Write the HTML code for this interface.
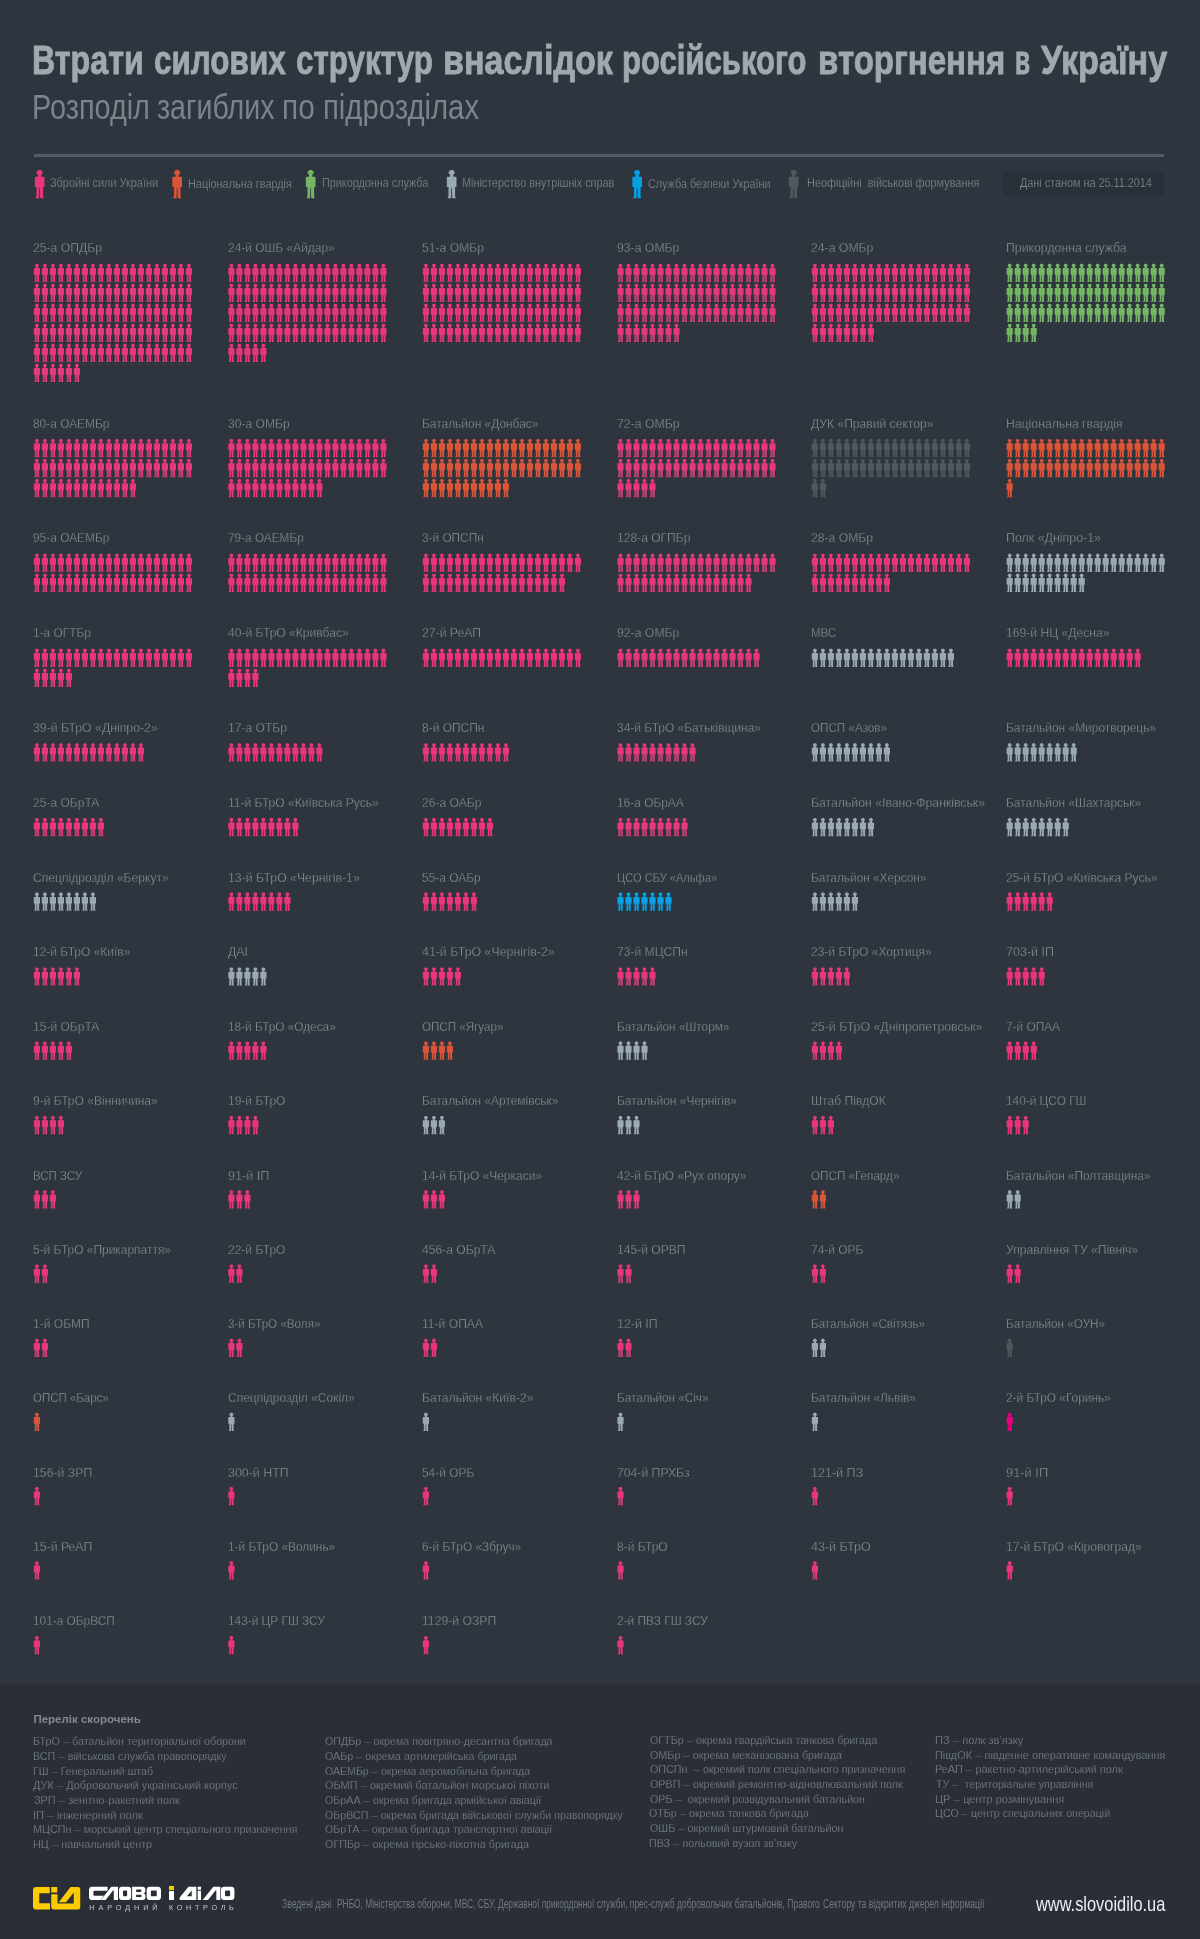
<!DOCTYPE html>
<html lang="uk"><head><meta charset="utf-8"><title>Втрати силових структур</title>
<style>
html,body{margin:0;padding:0;background:#2f353e;}
body{width:1200px;height:1939px;position:relative;overflow:hidden;font-family:"Liberation Sans",sans-serif;}
.t{position:absolute;white-space:nowrap;transform-origin:0 50%;}
.l{font-size:13.5px;line-height:13.5px;color:#8b9399;-webkit-text-stroke:0.3px #2f353e;}
.g{font-size:12.2px;line-height:12.2px;color:#858d93;-webkit-text-stroke:0.25px #2f353e;}
.a{font-size:11.5px;line-height:11.5px;color:#808890;-webkit-text-stroke:0.25px #2a2f37;}
.d{display:inline-block;transform:scaleX(0.6);margin:0 -0.2em;}
#w{position:absolute;left:0;top:0;width:1200px;height:1939px;will-change:transform;}
.figs{position:absolute;left:0;top:0;}
</style></head><body><div id="w">
<div class="t l" style="left:33.3px;top:241px;transform:scaleX(0.9021)">25-а ОПДБр</div>
<div class="t l" style="left:227.8px;top:241px;transform:scaleX(0.8837)">24-й ОШБ «Айдар»</div>
<div class="t l" style="left:422.3px;top:241px;transform:scaleX(0.9000)">51-а ОМБр</div>
<div class="t l" style="left:616.9px;top:241px;transform:scaleX(0.9058)">93-а ОМБр</div>
<div class="t l" style="left:811.3px;top:241px;transform:scaleX(0.9058)">24-а ОМБр</div>
<div class="t l" style="left:1006.1px;top:241px;transform:scaleX(0.9095)">Прикордонна служба</div>
<div class="t l" style="left:33.3px;top:417px;transform:scaleX(0.8822)">80-а ОАЕМБр</div>
<div class="t l" style="left:227.8px;top:417px;transform:scaleX(0.8957)">30-а ОМБр</div>
<div class="t l" style="left:422.3px;top:417px;transform:scaleX(0.8836)">Батальйон «Донбас»</div>
<div class="t l" style="left:616.9px;top:417px;transform:scaleX(0.9102)">72-а ОМБр</div>
<div class="t l" style="left:811.3px;top:417px;transform:scaleX(0.8961)">ДУК «Правий сектор»</div>
<div class="t l" style="left:1006.1px;top:417px;transform:scaleX(0.9052)">Національна гвардія</div>
<div class="t l" style="left:33.3px;top:531px;transform:scaleX(0.8822)">95-а ОАЕМБр</div>
<div class="t l" style="left:227.8px;top:531px;transform:scaleX(0.8741)">79-а ОАЕМБр</div>
<div class="t l" style="left:422.3px;top:531px;transform:scaleX(0.8763)">3-й ОПСПн</div>
<div class="t l" style="left:616.9px;top:531px;transform:scaleX(0.8934)">128-а ОГПБр</div>
<div class="t l" style="left:811.3px;top:531px;transform:scaleX(0.9000)">28-а ОМБр</div>
<div class="t l" style="left:1006.1px;top:531px;transform:scaleX(0.9188)">Полк «Дніпро-1»</div>
<div class="t l" style="left:33.3px;top:626px;transform:scaleX(0.8830)">1-а ОГТБр</div>
<div class="t l" style="left:227.8px;top:626px;transform:scaleX(0.8945)">40-й БТрО «Кривбас»</div>
<div class="t l" style="left:422.3px;top:626px;transform:scaleX(0.9038)">27-й РеАП</div>
<div class="t l" style="left:616.9px;top:626px;transform:scaleX(0.9058)">92-а ОМБр</div>
<div class="t l" style="left:811.3px;top:626px;transform:scaleX(0.8460)">МВС</div>
<div class="t l" style="left:1006.1px;top:626px;transform:scaleX(0.8977)">169-й НЦ «Десна»</div>
<div class="t l" style="left:33.3px;top:721px;transform:scaleX(0.9086)">39-й БТрО «Дніпро-2»</div>
<div class="t l" style="left:227.8px;top:721px;transform:scaleX(0.8955)">17-а ОТБр</div>
<div class="t l" style="left:422.3px;top:721px;transform:scaleX(0.8863)">8-й ОПСПн</div>
<div class="t l" style="left:616.9px;top:721px;transform:scaleX(0.8872)">34-й БТрО «Батьківщина»</div>
<div class="t l" style="left:811.3px;top:721px;transform:scaleX(0.8622)">ОПСП «Азов»</div>
<div class="t l" style="left:1006.1px;top:721px;transform:scaleX(0.8834)">Батальйон «Миротворець»</div>
<div class="t l" style="left:33.3px;top:796px;transform:scaleX(0.8920)">25-а ОБрТА</div>
<div class="t l" style="left:227.8px;top:796px;transform:scaleX(0.8910)">11-й БТрО «Київська Русь»</div>
<div class="t l" style="left:422.3px;top:796px;transform:scaleX(0.8953)">26-а ОАБр</div>
<div class="t l" style="left:616.9px;top:796px;transform:scaleX(0.8817)">16-а ОБрАА</div>
<div class="t l" style="left:811.3px;top:796px;transform:scaleX(0.9068)">Батальйон «Івано-Франківськ»</div>
<div class="t l" style="left:1006.1px;top:796px;transform:scaleX(0.8823)">Батальйон «Шахтарськ»</div>
<div class="t l" style="left:33.3px;top:871px;transform:scaleX(0.8949)">Спецпідрозділ «Беркут»</div>
<div class="t l" style="left:227.8px;top:871px;transform:scaleX(0.9090)">13-й БТрО «Чернігів-1»</div>
<div class="t l" style="left:422.3px;top:871px;transform:scaleX(0.8847)">55-а ОАБр</div>
<div class="t l" style="left:616.9px;top:871px;transform:scaleX(0.8206)">ЦСО СБУ «Альфа»</div>
<div class="t l" style="left:811.3px;top:871px;transform:scaleX(0.8764)">Батальйон «Херсон»</div>
<div class="t l" style="left:1006.1px;top:871px;transform:scaleX(0.8899)">25-й БТрО «Київська Русь»</div>
<div class="t l" style="left:33.3px;top:945px;transform:scaleX(0.8883)">12-й БТрО «Київ»</div>
<div class="t l" style="left:227.8px;top:945px;transform:scaleX(0.9133)">ДАІ</div>
<div class="t l" style="left:422.3px;top:945px;transform:scaleX(0.9159)">41-й БТрО «Чернігів-2»</div>
<div class="t l" style="left:616.9px;top:945px;transform:scaleX(0.8956)">73-й МЦСПн</div>
<div class="t l" style="left:811.3px;top:945px;transform:scaleX(0.8897)">23-й БТрО «Хортиця»</div>
<div class="t l" style="left:1006.1px;top:945px;transform:scaleX(0.9272)">703-й ІП</div>
<div class="t l" style="left:33.3px;top:1020px;transform:scaleX(0.8916)">15-й ОБрТА</div>
<div class="t l" style="left:227.8px;top:1020px;transform:scaleX(0.8744)">18-й БТрО «Одеса»</div>
<div class="t l" style="left:422.3px;top:1020px;transform:scaleX(0.8594)">ОПСП «Ягуар»</div>
<div class="t l" style="left:616.9px;top:1020px;transform:scaleX(0.8747)">Батальйон «Шторм»</div>
<div class="t l" style="left:811.3px;top:1020px;transform:scaleX(0.9140)">25-й БТрО «Дніпропетровськ»</div>
<div class="t l" style="left:1006.1px;top:1020px;transform:scaleX(0.8779)">7-й ОПАА</div>
<div class="t l" style="left:33.3px;top:1094px;transform:scaleX(0.8919)">9-й БТрО «Вінничина»</div>
<div class="t l" style="left:227.8px;top:1094px;transform:scaleX(0.8892)">19-й БТрО</div>
<div class="t l" style="left:422.3px;top:1094px;transform:scaleX(0.8826)">Батальйон «Артемівськ»</div>
<div class="t l" style="left:616.9px;top:1094px;transform:scaleX(0.8865)">Батальйон «Чернігів»</div>
<div class="t l" style="left:811.3px;top:1094px;transform:scaleX(0.8961)">Штаб ПівдОК</div>
<div class="t l" style="left:1006.1px;top:1094px;transform:scaleX(0.8769)">140-й ЦСО ГШ</div>
<div class="t l" style="left:33.3px;top:1169px;transform:scaleX(0.8501)">ВСП ЗСУ</div>
<div class="t l" style="left:227.8px;top:1169px;transform:scaleX(0.9354)">91-й ІП</div>
<div class="t l" style="left:422.3px;top:1169px;transform:scaleX(0.8867)">14-й БТрО «Черкаси»</div>
<div class="t l" style="left:616.9px;top:1169px;transform:scaleX(0.8853)">42-й БТрО «Рух опору»</div>
<div class="t l" style="left:811.3px;top:1169px;transform:scaleX(0.8647)">ОПСП «Гепард»</div>
<div class="t l" style="left:1006.1px;top:1169px;transform:scaleX(0.8756)">Батальйон «Полтавщина»</div>
<div class="t l" style="left:33.3px;top:1243px;transform:scaleX(0.8847)">5-й БТрО «Прикарпаття»</div>
<div class="t l" style="left:227.8px;top:1243px;transform:scaleX(0.8892)">22-й БТрО</div>
<div class="t l" style="left:422.3px;top:1243px;transform:scaleX(0.8957)">456-а ОБрТА</div>
<div class="t l" style="left:616.9px;top:1243px;transform:scaleX(0.8938)">145-й ОРВП</div>
<div class="t l" style="left:811.3px;top:1243px;transform:scaleX(0.8856)">74-й ОРБ</div>
<div class="t l" style="left:1006.1px;top:1243px;transform:scaleX(0.8982)">Управління ТУ «Північ»</div>
<div class="t l" style="left:33.3px;top:1317px;transform:scaleX(0.8914)">1-й ОБМП</div>
<div class="t l" style="left:227.8px;top:1317px;transform:scaleX(0.8618)">3-й БТрО «Воля»</div>
<div class="t l" style="left:422.3px;top:1317px;transform:scaleX(0.8969)">11-й ОПАА</div>
<div class="t l" style="left:616.9px;top:1317px;transform:scaleX(0.9196)">12-й ІП</div>
<div class="t l" style="left:811.3px;top:1317px;transform:scaleX(0.8608)">Батальйон «Світязь»</div>
<div class="t l" style="left:1006.1px;top:1317px;transform:scaleX(0.8660)">Батальйон «ОУН»</div>
<div class="t l" style="left:33.3px;top:1391px;transform:scaleX(0.8501)">ОПСП «Барс»</div>
<div class="t l" style="left:227.8px;top:1391px;transform:scaleX(0.8872)">Спецпідрозділ «Сокіл»</div>
<div class="t l" style="left:422.3px;top:1391px;transform:scaleX(0.8975)">Батальйон «Київ-2»</div>
<div class="t l" style="left:616.9px;top:1391px;transform:scaleX(0.8657)">Батальйон «Січ»</div>
<div class="t l" style="left:811.3px;top:1391px;transform:scaleX(0.8821)">Батальйон «Львів»</div>
<div class="t l" style="left:1006.1px;top:1391px;transform:scaleX(0.8779)">2-й БТрО «Горинь»</div>
<div class="t l" style="left:33.3px;top:1466px;transform:scaleX(0.9083)">156-й ЗРП</div>
<div class="t l" style="left:227.8px;top:1466px;transform:scaleX(0.9195)">300-й НТП</div>
<div class="t l" style="left:422.3px;top:1466px;transform:scaleX(0.8822)">54-й ОРБ</div>
<div class="t l" style="left:616.9px;top:1466px;transform:scaleX(0.9035)">704-й ПРХБз</div>
<div class="t l" style="left:811.3px;top:1466px;transform:scaleX(0.9293)">121-й ПЗ</div>
<div class="t l" style="left:1006.1px;top:1466px;transform:scaleX(0.9535)">91-й ІП</div>
<div class="t l" style="left:33.3px;top:1540px;transform:scaleX(0.9068)">15-й РеАП</div>
<div class="t l" style="left:227.8px;top:1540px;transform:scaleX(0.8791)">1-й БТрО «Волинь»</div>
<div class="t l" style="left:422.3px;top:1540px;transform:scaleX(0.8791)">6-й БТрО «Збруч»</div>
<div class="t l" style="left:616.9px;top:1540px;transform:scaleX(0.8888)">8-й БТрО</div>
<div class="t l" style="left:811.3px;top:1540px;transform:scaleX(0.9248)">43-й БТрО</div>
<div class="t l" style="left:1006.1px;top:1540px;transform:scaleX(0.8954)">17-й БТрО «Кіровоград»</div>
<div class="t l" style="left:33.3px;top:1614px;transform:scaleX(0.8770)">101-а ОБрВСП</div>
<div class="t l" style="left:227.8px;top:1614px;transform:scaleX(0.8762)">143-й ЦР ГШ ЗСУ</div>
<div class="t l" style="left:422.3px;top:1614px;transform:scaleX(0.9029)">1129-й ОЗРП</div>
<div class="t l" style="left:616.9px;top:1614px;transform:scaleX(0.8825)">2-й ПВЗ ГШ ЗСУ</div>
<div class="t" style="left:31.9px;top:39px;font-size:41.5px;line-height:41.5px;color:#a1a8b0;transform:scaleX(0.7764);font-weight:bold;-webkit-text-stroke:0.9px #a1a8b0;">Втрати</div>
<div class="t" style="left:153.5px;top:39px;font-size:41.5px;line-height:41.5px;color:#a1a8b0;transform:scaleX(0.7575);font-weight:bold;-webkit-text-stroke:0.9px #a1a8b0;">силових</div>
<div class="t" style="left:296.0px;top:39px;font-size:41.5px;line-height:41.5px;color:#a1a8b0;transform:scaleX(0.7552);font-weight:bold;-webkit-text-stroke:0.9px #a1a8b0;">структур</div>
<div class="t" style="left:442.8px;top:39px;font-size:41.5px;line-height:41.5px;color:#a1a8b0;transform:scaleX(0.8204);font-weight:bold;-webkit-text-stroke:0.9px #a1a8b0;">внаслідок</div>
<div class="t" style="left:622.3px;top:39px;font-size:41.5px;line-height:41.5px;color:#a1a8b0;transform:scaleX(0.7483);font-weight:bold;-webkit-text-stroke:0.9px #a1a8b0;">російського</div>
<div class="t" style="left:817.7px;top:39px;font-size:41.5px;line-height:41.5px;color:#a1a8b0;transform:scaleX(0.7963);font-weight:bold;-webkit-text-stroke:0.9px #a1a8b0;">вторгнення</div>
<div class="t" style="left:1014.5px;top:39px;font-size:41.5px;line-height:41.5px;color:#a1a8b0;transform:scaleX(0.5926);font-weight:bold;-webkit-text-stroke:0.9px #a1a8b0;">в</div>
<div class="t" style="left:1040.9px;top:39px;font-size:41.5px;line-height:41.5px;color:#a1a8b0;transform:scaleX(0.8233);font-weight:bold;-webkit-text-stroke:0.9px #a1a8b0;">Україну</div>
<div class="t" style="left:32.2px;top:89px;font-size:35px;line-height:35px;color:#7b838c;transform:scaleX(0.8235);">Розподіл</div>
<div class="t" style="left:157.3px;top:89px;font-size:35px;line-height:35px;color:#7b838c;transform:scaleX(0.8167);">загиблих</div>
<div class="t" style="left:282.3px;top:89px;font-size:35px;line-height:35px;color:#7b838c;transform:scaleX(0.8525);">по</div>
<div class="t" style="left:323.0px;top:89px;font-size:35px;line-height:35px;color:#7b838c;transform:scaleX(0.8363);">підрозділах</div>
<div style="position:absolute;left:34px;top:154px;width:1129.5px;height:3px;background:#525c68"></div>
<div class="t g" style="left:50.3px;top:177px;transform:scaleX(0.8952)">Збройні сили України</div>
<div class="t g" style="left:187.5px;top:178px;transform:scaleX(0.8926)">Національна гвардія</div>
<div class="t g" style="left:321.9px;top:177px;transform:scaleX(0.8872)">Прикордонна служба</div>
<div class="t g" style="left:462.3px;top:177px;transform:scaleX(0.8887)">Міністерство внутрішніх справ</div>
<div class="t g" style="left:648.3px;top:178px;transform:scaleX(0.8862)">Служба безпеки України</div>
<div class="t g" style="left:807.0px;top:177px;transform:scaleX(0.8959)">Неофіційні&nbsp; військові формування</div>
<div style="position:absolute;left:1003px;top:172px;width:161px;height:22.7px;background:#29303a"></div>
<div class="t g" style="left:1020.0px;top:177px;transform:scaleX(0.8886)">Дані станом на 25.11.2014</div>
<div style="position:absolute;left:0;top:1684px;width:1200px;height:255px;background:#2a2f37"></div>
<div class="t" style="left:33.4px;top:1714px;font-size:11.5px;line-height:11.5px;color:#808890;transform:scaleX(1.0000);font-weight:bold;">Перелік скорочень</div>
<div class="t a" style="left:33.0px;top:1736px;transform:scaleX(0.9288)">БТрО <span class="d">—</span> батальйон територіальної оборони</div>
<div class="t a" style="left:33.0px;top:1751px;transform:scaleX(0.9337)">ВСП <span class="d">—</span> військова служба правопорядку</div>
<div class="t a" style="left:32.5px;top:1766px;transform:scaleX(0.9239)">ГШ <span class="d">—</span> Генеральний штаб</div>
<div class="t a" style="left:33.3px;top:1780px;transform:scaleX(0.9457)">ДУК <span class="d">—</span> Добровольчий український корпус</div>
<div class="t a" style="left:33.7px;top:1795px;transform:scaleX(0.9456)">ЗРП <span class="d">—</span> зенітно-ракетний полк</div>
<div class="t a" style="left:32.7px;top:1810px;transform:scaleX(0.9694)">ІП <span class="d">—</span> інженерний полк</div>
<div class="t a" style="left:33.3px;top:1824px;transform:scaleX(0.9344)">МЦСПн <span class="d">—</span> морський центр спеціального призначення</div>
<div class="t a" style="left:33.0px;top:1839px;transform:scaleX(0.9392)">НЦ <span class="d">—</span> навчальний центр</div>
<div class="t a" style="left:325.1px;top:1736px;transform:scaleX(0.9278)">ОПДБр <span class="d">—</span> окрема повітряно-десантна бригада</div>
<div class="t a" style="left:325.3px;top:1751px;transform:scaleX(0.9254)">ОАБр <span class="d">—</span> окрема артилерійська бригада</div>
<div class="t a" style="left:325.4px;top:1766px;transform:scaleX(0.9193)">ОАЕМБр <span class="d">—</span> окрема аеромобільна бригада</div>
<div class="t a" style="left:324.9px;top:1780px;transform:scaleX(0.9450)">ОБМП <span class="d">—</span> окремий батальйон морської піхоти</div>
<div class="t a" style="left:325.3px;top:1795px;transform:scaleX(0.9304)">ОБрАА <span class="d">—</span> окрема бригада армійської авіації</div>
<div class="t a" style="left:325.4px;top:1810px;transform:scaleX(0.9268)">ОБрВСП <span class="d">—</span> окрема бригада військової служби правопорядку</div>
<div class="t a" style="left:325.3px;top:1824px;transform:scaleX(0.9254)">ОБрТА <span class="d">—</span> окрема бригада транспортної авіації</div>
<div class="t a" style="left:324.9px;top:1839px;transform:scaleX(0.9392)">ОГПБр <span class="d">—</span> окрема гірсько-піхотна бригада</div>
<div class="t a" style="left:649.8px;top:1735px;transform:scaleX(0.9309)">ОГТБр <span class="d">—</span> окрема гвардійська танкова бригада</div>
<div class="t a" style="left:649.8px;top:1750px;transform:scaleX(0.9361)">ОМБр <span class="d">—</span> окрема механізована бригада</div>
<div class="t a" style="left:649.8px;top:1764px;transform:scaleX(0.9348)">ОПСПн&nbsp; <span class="d">—</span> окремий полк спеціального призначення</div>
<div class="t a" style="left:649.6px;top:1779px;transform:scaleX(0.9356)">ОРВП <span class="d">—</span> окремий ремонтно-відновлювальний полк</div>
<div class="t a" style="left:649.7px;top:1794px;transform:scaleX(0.9297)">ОРБ <span class="d">—</span>&nbsp; окремий розвідувальний батальйон</div>
<div class="t a" style="left:649.0px;top:1808px;transform:scaleX(0.9259)">ОТБр <span class="d">—</span> окрема танкова бригада</div>
<div class="t a" style="left:649.6px;top:1823px;transform:scaleX(0.9318)">ОШБ <span class="d">—</span> окремий штурмовий батальйон</div>
<div class="t a" style="left:648.5px;top:1838px;transform:scaleX(0.9349)">ПВЗ <span class="d">—</span> польовий вузол зв’язку</div>
<div class="t a" style="left:934.7px;top:1735px;transform:scaleX(0.9576)">ПЗ <span class="d">—</span> полк зв’язку</div>
<div class="t a" style="left:935.3px;top:1750px;transform:scaleX(0.9443)">ПівдОК <span class="d">—</span> південне оперативне командування</div>
<div class="t a" style="left:935.0px;top:1764px;transform:scaleX(0.9472)">РеАП <span class="d">—</span> ракетно-артилерійський полк</div>
<div class="t a" style="left:935.7px;top:1779px;transform:scaleX(0.9283)">ТУ <span class="d">—</span>&nbsp; територіальне управління</div>
<div class="t a" style="left:935.0px;top:1794px;transform:scaleX(0.9548)">ЦР <span class="d">—</span> центр розмінування</div>
<div class="t a" style="left:935.0px;top:1808px;transform:scaleX(0.9289)">ЦСО <span class="d">—</span> центр спеціальних операцій</div>
<div class="t" style="left:281.8px;top:1898px;font-size:12.5px;line-height:12.5px;color:#6f777f;transform:scaleX(0.6902);">Зведені дані</div>
<div class="t" style="left:337.1px;top:1898px;font-size:12.5px;line-height:12.5px;color:#6f777f;transform:scaleX(0.6711);">РНБО, Міністерства оборони, МВС, СБУ, Державної прикордонної служби, прес-служб</div>
<div class="t" style="left:677.3px;top:1898px;font-size:12.5px;line-height:12.5px;color:#6f777f;transform:scaleX(0.6821);">добровольчих батальйонів, Правого</div>
<div class="t" style="left:823.4px;top:1898px;font-size:12.5px;line-height:12.5px;color:#6f777f;transform:scaleX(0.6867);">Сектору та відкритих джерел інформації</div>
<div class="t" style="left:1036.0px;top:1893px;font-size:21px;line-height:21px;color:#eceff1;transform:scaleX(0.7802);">www.slovoidilo.ua</div>
<div class="t" style="left:89.3px;top:1904px;font-size:7.2px;line-height:7.2px;color:#c3c7cb;transform:scaleX(1.0000);letter-spacing:3.97px;">НАРОДНИЙ</div>
<div class="t" style="left:168.9px;top:1904px;font-size:7.2px;line-height:7.2px;color:#c3c7cb;transform:scaleX(1.0000);letter-spacing:3.72px;">КОНТРОЛЬ</div>
<svg class="figs" width="1200" height="1939" viewBox="0 0 1200 1939"><defs>
<path id="f" d="M3.9 0.8 C4.9 0.8 5.5 1.2 5.6 2.0 C6.15 2.1 6.15 2.8 5.7 2.9 C5.5 3.5 5.2 3.7 4.95 3.8 L4.95 5.1 L6.6 5.1 Q7.0 5.1 7.0 5.5 L7.0 11.75 L6.1 11.75 L6.1 17.9 L6.4 18.4 L6.4 19 L4.25 19 L4.2 18.3 L4.1 12.3 L3.65 12.3 L3.55 18.3 L3.5 19 L1.3 19 L1.3 18.5 L1.85 17.8 L1.85 11.75 L0.8 11.75 L0.8 5.5 Q0.8 5.1 1.2 5.1 L2.85 5.1 L2.85 3.8 C2.6 3.7 2.3 3.5 2.1 2.9 C1.65 2.8 1.65 2.1 2.2 2.0 C2.3 1.2 2.9 0.8 3.9 0.8 Z"/>
<g id="r1"><use href="#f" x="0"/></g>
<g id="r2"><use href="#f" x="0"/><use href="#f" x="8"/></g>
<g id="r3"><use href="#f" x="0"/><use href="#f" x="8"/><use href="#f" x="16"/></g>
<g id="r4"><use href="#f" x="0"/><use href="#f" x="8"/><use href="#f" x="16"/><use href="#f" x="24"/></g>
<g id="r5"><use href="#f" x="0"/><use href="#f" x="8"/><use href="#f" x="16"/><use href="#f" x="24"/><use href="#f" x="32"/></g>
<g id="r6"><use href="#f" x="0"/><use href="#f" x="8"/><use href="#f" x="16"/><use href="#f" x="24"/><use href="#f" x="32"/><use href="#f" x="40"/></g>
<g id="r7"><use href="#f" x="0"/><use href="#f" x="8"/><use href="#f" x="16"/><use href="#f" x="24"/><use href="#f" x="32"/><use href="#f" x="40"/><use href="#f" x="48"/></g>
<g id="r8"><use href="#f" x="0"/><use href="#f" x="8"/><use href="#f" x="16"/><use href="#f" x="24"/><use href="#f" x="32"/><use href="#f" x="40"/><use href="#f" x="48"/><use href="#f" x="56"/></g>
<g id="r9"><use href="#f" x="0"/><use href="#f" x="8"/><use href="#f" x="16"/><use href="#f" x="24"/><use href="#f" x="32"/><use href="#f" x="40"/><use href="#f" x="48"/><use href="#f" x="56"/><use href="#f" x="64"/></g>
<g id="r10"><use href="#f" x="0"/><use href="#f" x="8"/><use href="#f" x="16"/><use href="#f" x="24"/><use href="#f" x="32"/><use href="#f" x="40"/><use href="#f" x="48"/><use href="#f" x="56"/><use href="#f" x="64"/><use href="#f" x="72"/></g>
<g id="r11"><use href="#f" x="0"/><use href="#f" x="8"/><use href="#f" x="16"/><use href="#f" x="24"/><use href="#f" x="32"/><use href="#f" x="40"/><use href="#f" x="48"/><use href="#f" x="56"/><use href="#f" x="64"/><use href="#f" x="72"/><use href="#f" x="80"/></g>
<g id="r12"><use href="#f" x="0"/><use href="#f" x="8"/><use href="#f" x="16"/><use href="#f" x="24"/><use href="#f" x="32"/><use href="#f" x="40"/><use href="#f" x="48"/><use href="#f" x="56"/><use href="#f" x="64"/><use href="#f" x="72"/><use href="#f" x="80"/><use href="#f" x="88"/></g>
<g id="r13"><use href="#f" x="0"/><use href="#f" x="8"/><use href="#f" x="16"/><use href="#f" x="24"/><use href="#f" x="32"/><use href="#f" x="40"/><use href="#f" x="48"/><use href="#f" x="56"/><use href="#f" x="64"/><use href="#f" x="72"/><use href="#f" x="80"/><use href="#f" x="88"/><use href="#f" x="96"/></g>
<g id="r14"><use href="#f" x="0"/><use href="#f" x="8"/><use href="#f" x="16"/><use href="#f" x="24"/><use href="#f" x="32"/><use href="#f" x="40"/><use href="#f" x="48"/><use href="#f" x="56"/><use href="#f" x="64"/><use href="#f" x="72"/><use href="#f" x="80"/><use href="#f" x="88"/><use href="#f" x="96"/><use href="#f" x="104"/></g>
<g id="r15"><use href="#f" x="0"/><use href="#f" x="8"/><use href="#f" x="16"/><use href="#f" x="24"/><use href="#f" x="32"/><use href="#f" x="40"/><use href="#f" x="48"/><use href="#f" x="56"/><use href="#f" x="64"/><use href="#f" x="72"/><use href="#f" x="80"/><use href="#f" x="88"/><use href="#f" x="96"/><use href="#f" x="104"/><use href="#f" x="112"/></g>
<g id="r16"><use href="#f" x="0"/><use href="#f" x="8"/><use href="#f" x="16"/><use href="#f" x="24"/><use href="#f" x="32"/><use href="#f" x="40"/><use href="#f" x="48"/><use href="#f" x="56"/><use href="#f" x="64"/><use href="#f" x="72"/><use href="#f" x="80"/><use href="#f" x="88"/><use href="#f" x="96"/><use href="#f" x="104"/><use href="#f" x="112"/><use href="#f" x="120"/></g>
<g id="r17"><use href="#f" x="0"/><use href="#f" x="8"/><use href="#f" x="16"/><use href="#f" x="24"/><use href="#f" x="32"/><use href="#f" x="40"/><use href="#f" x="48"/><use href="#f" x="56"/><use href="#f" x="64"/><use href="#f" x="72"/><use href="#f" x="80"/><use href="#f" x="88"/><use href="#f" x="96"/><use href="#f" x="104"/><use href="#f" x="112"/><use href="#f" x="120"/><use href="#f" x="128"/></g>
<g id="r18"><use href="#f" x="0"/><use href="#f" x="8"/><use href="#f" x="16"/><use href="#f" x="24"/><use href="#f" x="32"/><use href="#f" x="40"/><use href="#f" x="48"/><use href="#f" x="56"/><use href="#f" x="64"/><use href="#f" x="72"/><use href="#f" x="80"/><use href="#f" x="88"/><use href="#f" x="96"/><use href="#f" x="104"/><use href="#f" x="112"/><use href="#f" x="120"/><use href="#f" x="128"/><use href="#f" x="136"/></g>
<g id="r19"><use href="#f" x="0"/><use href="#f" x="8"/><use href="#f" x="16"/><use href="#f" x="24"/><use href="#f" x="32"/><use href="#f" x="40"/><use href="#f" x="48"/><use href="#f" x="56"/><use href="#f" x="64"/><use href="#f" x="72"/><use href="#f" x="80"/><use href="#f" x="88"/><use href="#f" x="96"/><use href="#f" x="104"/><use href="#f" x="112"/><use href="#f" x="120"/><use href="#f" x="128"/><use href="#f" x="136"/><use href="#f" x="144"/></g>
<g id="r20"><use href="#f" x="0"/><use href="#f" x="8"/><use href="#f" x="16"/><use href="#f" x="24"/><use href="#f" x="32"/><use href="#f" x="40"/><use href="#f" x="48"/><use href="#f" x="56"/><use href="#f" x="64"/><use href="#f" x="72"/><use href="#f" x="80"/><use href="#f" x="88"/><use href="#f" x="96"/><use href="#f" x="104"/><use href="#f" x="112"/><use href="#f" x="120"/><use href="#f" x="128"/><use href="#f" x="136"/><use href="#f" x="144"/><use href="#f" x="152"/></g>
</defs>
<g transform="translate(33.0 263.0)" fill="#e8367a"><use href="#r20" y="0"/><use href="#r20" y="20"/><use href="#r20" y="40"/><use href="#r20" y="60"/><use href="#r20" y="80"/><use href="#r6" y="100"/></g>
<g transform="translate(227.5 263.0)" fill="#e8367a"><use href="#r20" y="0"/><use href="#r20" y="20"/><use href="#r20" y="40"/><use href="#r20" y="60"/><use href="#r5" y="80"/></g>
<g transform="translate(422.0 263.0)" fill="#e8367a"><use href="#r20" y="0"/><use href="#r20" y="20"/><use href="#r20" y="40"/><use href="#r20" y="60"/></g>
<g transform="translate(616.6 263.0)" fill="#e8367a"><use href="#r20" y="0"/><use href="#r20" y="20"/><use href="#r20" y="40"/><use href="#r8" y="60"/></g>
<g transform="translate(811.0 263.0)" fill="#e8367a"><use href="#r20" y="0"/><use href="#r20" y="20"/><use href="#r20" y="40"/><use href="#r8" y="60"/></g>
<g transform="translate(1005.8 263.0)" fill="#73b565"><use href="#r20" y="0"/><use href="#r20" y="20"/><use href="#r20" y="40"/><use href="#r4" y="60"/></g>
<g transform="translate(33.0 438.2)" fill="#e8367a"><use href="#r20" y="0"/><use href="#r20" y="20"/><use href="#r13" y="40"/></g>
<g transform="translate(227.5 438.2)" fill="#e8367a"><use href="#r20" y="0"/><use href="#r20" y="20"/><use href="#r12" y="40"/></g>
<g transform="translate(422.0 438.2)" fill="#d9553a"><use href="#r20" y="0"/><use href="#r20" y="20"/><use href="#r11" y="40"/></g>
<g transform="translate(616.6 438.2)" fill="#e8367a"><use href="#r20" y="0"/><use href="#r20" y="20"/><use href="#r5" y="40"/></g>
<g transform="translate(811.0 438.2)" fill="#50585c"><use href="#r20" y="0"/><use href="#r20" y="20"/><use href="#r2" y="40"/></g>
<g transform="translate(1005.8 438.2)" fill="#d9553a"><use href="#r20" y="0"/><use href="#r20" y="20"/><use href="#r1" y="40"/></g>
<g transform="translate(33.0 552.9)" fill="#e8367a"><use href="#r20" y="0"/><use href="#r20" y="20"/></g>
<g transform="translate(227.5 552.9)" fill="#e8367a"><use href="#r20" y="0"/><use href="#r20" y="20"/></g>
<g transform="translate(422.0 552.9)" fill="#e8367a"><use href="#r20" y="0"/><use href="#r18" y="20"/></g>
<g transform="translate(616.6 552.9)" fill="#e8367a"><use href="#r20" y="0"/><use href="#r17" y="20"/></g>
<g transform="translate(811.0 552.9)" fill="#e8367a"><use href="#r20" y="0"/><use href="#r10" y="20"/></g>
<g transform="translate(1005.8 552.9)" fill="#9aa9b3"><use href="#r20" y="0"/><use href="#r10" y="20"/></g>
<g transform="translate(33.0 648.0)" fill="#e8367a"><use href="#r20" y="0"/><use href="#r5" y="20"/></g>
<g transform="translate(227.5 648.0)" fill="#e8367a"><use href="#r20" y="0"/><use href="#r4" y="20"/></g>
<g transform="translate(422.0 648.0)" fill="#e8367a"><use href="#r20" y="0"/></g>
<g transform="translate(616.6 648.0)" fill="#e8367a"><use href="#r18" y="0"/></g>
<g transform="translate(811.0 648.0)" fill="#9aa9b3"><use href="#r18" y="0"/></g>
<g transform="translate(1005.8 648.0)" fill="#e8367a"><use href="#r17" y="0"/></g>
<g transform="translate(33.0 742.5)" fill="#e8367a"><use href="#r14" y="0"/></g>
<g transform="translate(227.5 742.5)" fill="#e8367a"><use href="#r12" y="0"/></g>
<g transform="translate(422.0 742.5)" fill="#e8367a"><use href="#r11" y="0"/></g>
<g transform="translate(616.6 742.5)" fill="#e8367a"><use href="#r10" y="0"/></g>
<g transform="translate(811.0 742.5)" fill="#9aa9b3"><use href="#r10" y="0"/></g>
<g transform="translate(1005.8 742.5)" fill="#9aa9b3"><use href="#r9" y="0"/></g>
<g transform="translate(33.0 817.3)" fill="#e8367a"><use href="#r9" y="0"/></g>
<g transform="translate(227.5 817.3)" fill="#e8367a"><use href="#r9" y="0"/></g>
<g transform="translate(422.0 817.3)" fill="#e8367a"><use href="#r9" y="0"/></g>
<g transform="translate(616.6 817.3)" fill="#e8367a"><use href="#r9" y="0"/></g>
<g transform="translate(811.0 817.3)" fill="#9aa9b3"><use href="#r8" y="0"/></g>
<g transform="translate(1005.8 817.3)" fill="#9aa9b3"><use href="#r8" y="0"/></g>
<g transform="translate(33.0 891.8)" fill="#9aa9b3"><use href="#r8" y="0"/></g>
<g transform="translate(227.5 891.8)" fill="#e8367a"><use href="#r8" y="0"/></g>
<g transform="translate(422.0 891.8)" fill="#e8367a"><use href="#r7" y="0"/></g>
<g transform="translate(616.6 891.8)" fill="#06a0e4"><use href="#r7" y="0"/></g>
<g transform="translate(811.0 891.8)" fill="#9aa9b3"><use href="#r6" y="0"/></g>
<g transform="translate(1005.8 891.8)" fill="#e8367a"><use href="#r6" y="0"/></g>
<g transform="translate(33.0 966.6)" fill="#e8367a"><use href="#r6" y="0"/></g>
<g transform="translate(227.5 966.6)" fill="#9aa9b3"><use href="#r5" y="0"/></g>
<g transform="translate(422.0 966.6)" fill="#e8367a"><use href="#r5" y="0"/></g>
<g transform="translate(616.6 966.6)" fill="#e8367a"><use href="#r5" y="0"/></g>
<g transform="translate(811.0 966.6)" fill="#e8367a"><use href="#r5" y="0"/></g>
<g transform="translate(1005.8 966.6)" fill="#e8367a"><use href="#r5" y="0"/></g>
<g transform="translate(33.0 1040.7)" fill="#e8367a"><use href="#r5" y="0"/></g>
<g transform="translate(227.5 1040.7)" fill="#e8367a"><use href="#r5" y="0"/></g>
<g transform="translate(422.0 1040.7)" fill="#d9553a"><use href="#r4" y="0"/></g>
<g transform="translate(616.6 1040.7)" fill="#9aa9b3"><use href="#r4" y="0"/></g>
<g transform="translate(811.0 1040.7)" fill="#e8367a"><use href="#r4" y="0"/></g>
<g transform="translate(1005.8 1040.7)" fill="#e8367a"><use href="#r4" y="0"/></g>
<g transform="translate(33.0 1115.2)" fill="#e8367a"><use href="#r4" y="0"/></g>
<g transform="translate(227.5 1115.2)" fill="#e8367a"><use href="#r4" y="0"/></g>
<g transform="translate(422.0 1115.2)" fill="#9aa9b3"><use href="#r3" y="0"/></g>
<g transform="translate(616.6 1115.2)" fill="#9aa9b3"><use href="#r3" y="0"/></g>
<g transform="translate(811.0 1115.2)" fill="#e8367a"><use href="#r3" y="0"/></g>
<g transform="translate(1005.8 1115.2)" fill="#e8367a"><use href="#r3" y="0"/></g>
<g transform="translate(33.0 1189.5)" fill="#e8367a"><use href="#r3" y="0"/></g>
<g transform="translate(227.5 1189.5)" fill="#e8367a"><use href="#r3" y="0"/></g>
<g transform="translate(422.0 1189.5)" fill="#e8367a"><use href="#r3" y="0"/></g>
<g transform="translate(616.6 1189.5)" fill="#e8367a"><use href="#r3" y="0"/></g>
<g transform="translate(811.0 1189.5)" fill="#d9553a"><use href="#r2" y="0"/></g>
<g transform="translate(1005.8 1189.5)" fill="#9aa9b3"><use href="#r2" y="0"/></g>
<g transform="translate(33.0 1263.8)" fill="#e8367a"><use href="#r2" y="0"/></g>
<g transform="translate(227.5 1263.8)" fill="#e8367a"><use href="#r2" y="0"/></g>
<g transform="translate(422.0 1263.8)" fill="#e8367a"><use href="#r2" y="0"/></g>
<g transform="translate(616.6 1263.8)" fill="#e8367a"><use href="#r2" y="0"/></g>
<g transform="translate(811.0 1263.8)" fill="#e8367a"><use href="#r2" y="0"/></g>
<g transform="translate(1005.8 1263.8)" fill="#e8367a"><use href="#r2" y="0"/></g>
<g transform="translate(33.0 1338.0)" fill="#e8367a"><use href="#r2" y="0"/></g>
<g transform="translate(227.5 1338.0)" fill="#e8367a"><use href="#r2" y="0"/></g>
<g transform="translate(422.0 1338.0)" fill="#e8367a"><use href="#r2" y="0"/></g>
<g transform="translate(616.6 1338.0)" fill="#e8367a"><use href="#r2" y="0"/></g>
<g transform="translate(811.0 1338.0)" fill="#9aa9b3"><use href="#r2" y="0"/></g>
<g transform="translate(1005.8 1338.0)" fill="#50585c"><use href="#r1" y="0"/></g>
<g transform="translate(33.0 1412.0)" fill="#d9553a"><use href="#r1" y="0"/></g>
<g transform="translate(227.5 1412.0)" fill="#9aa9b3"><use href="#r1" y="0"/></g>
<g transform="translate(422.0 1412.0)" fill="#9aa9b3"><use href="#r1" y="0"/></g>
<g transform="translate(616.6 1412.0)" fill="#9aa9b3"><use href="#r1" y="0"/></g>
<g transform="translate(811.0 1412.0)" fill="#9aa9b3"><use href="#r1" y="0"/></g>
<g transform="translate(1005.8 1412.0)" fill="#e6007e"><use href="#r1" y="0"/></g>
<g transform="translate(33.0 1486.3)" fill="#e8367a"><use href="#r1" y="0"/></g>
<g transform="translate(227.5 1486.3)" fill="#e8367a"><use href="#r1" y="0"/></g>
<g transform="translate(422.0 1486.3)" fill="#e8367a"><use href="#r1" y="0"/></g>
<g transform="translate(616.6 1486.3)" fill="#e8367a"><use href="#r1" y="0"/></g>
<g transform="translate(811.0 1486.3)" fill="#e8367a"><use href="#r1" y="0"/></g>
<g transform="translate(1005.8 1486.3)" fill="#e8367a"><use href="#r1" y="0"/></g>
<g transform="translate(33.0 1560.5)" fill="#e8367a"><use href="#r1" y="0"/></g>
<g transform="translate(227.5 1560.5)" fill="#e8367a"><use href="#r1" y="0"/></g>
<g transform="translate(422.0 1560.5)" fill="#e8367a"><use href="#r1" y="0"/></g>
<g transform="translate(616.6 1560.5)" fill="#e8367a"><use href="#r1" y="0"/></g>
<g transform="translate(811.0 1560.5)" fill="#e8367a"><use href="#r1" y="0"/></g>
<g transform="translate(1005.8 1560.5)" fill="#e8367a"><use href="#r1" y="0"/></g>
<g transform="translate(33.0 1635.3)" fill="#e8367a"><use href="#r1" y="0"/></g>
<g transform="translate(227.5 1635.3)" fill="#e8367a"><use href="#r1" y="0"/></g>
<g transform="translate(422.0 1635.3)" fill="#e8367a"><use href="#r1" y="0"/></g>
<g transform="translate(616.6 1635.3)" fill="#e8367a"><use href="#r1" y="0"/></g>
<g transform="translate(33.61 168.76) scale(1.555)"><use href="#f" fill="#e8367a"/></g>
<g transform="translate(171.11 168.76) scale(1.555)"><use href="#f" fill="#d9553a"/></g>
<g transform="translate(304.61 168.76) scale(1.555)"><use href="#f" fill="#73b565"/></g>
<g transform="translate(445.61 168.76) scale(1.555)"><use href="#f" fill="#9aa9b3"/></g>
<g transform="translate(631.11 168.76) scale(1.555)"><use href="#f" fill="#06a0e4"/></g>
<g transform="translate(787.61 168.76) scale(1.555)"><use href="#f" fill="#50585c"/></g>
<g transform="translate(33 1887) scale(0.05)" fill="#fccb00"><path d="M60 0 H335 V125 H125 V325 H340 V450 H60 Q0 450 0 390 V60 Q0 0 60 0 Z"/><path d="M365 0 H485 V110 H365 Z"/><path d="M365 145 H490 V330 H815 V110 L660 305 H515 L750 0 H900 Q945 0 945 45 V405 Q945 450 900 450 H420 Q365 450 365 395 Z"/></g>
<g transform="translate(85 1882) scale(0.066667)" fill="#fff" fill-rule="evenodd"><path d="M110 70 H338 V132 H142 Q126 132 126 148 V192 Q126 208 142 208 H282 L234 270 H110 Q60 270 60 220 V120 Q60 70 110 70 Z"/><path d="M238 270 L395 70 H495 V270 H432 V128 H420 L310 270 Z"/><path d="M555 70 H647 Q692 70 692 115 V225 Q692 270 647 270 H555 Q510 270 510 225 V115 Q510 70 555 70 Z M584 126 H618 Q632 126 632 140 V200 Q632 214 618 214 H584 Q570 214 570 200 V140 Q570 126 584 126 Z"/><path d="M706 70 H860 Q905 70 905 112 V135 Q905 160 880 168 Q908 176 908 205 V225 Q908 270 860 270 H706 Z M776 114 H835 Q845 114 845 124 V140 Q845 150 835 150 H776 Q766 150 766 140 V124 Q766 114 776 114 Z M776 190 H838 Q848 190 848 200 V216 Q848 226 838 226 H776 Q766 226 766 216 V200 Q766 190 776 190 Z"/><path d="M975 70 H1090 Q1140 70 1140 120 V220 Q1140 270 1090 270 H975 Q925 270 925 220 V120 Q925 70 975 70 Z M1004 126 H1061 Q1077 126 1077 142 V198 Q1077 214 1061 214 H1004 Q988 214 988 198 V142 Q988 126 1004 126 Z"/></g>
<g transform="translate(160 1882) scale(0.066667)" fill="#fff" fill-rule="evenodd"><path fill="#fccb00" d="M135 60 H210 V122 H135 Z"/><path d="M135 136 H210 V270 H135 Z"/><path d="M295 270 V232 L428 70 H545 V270 Z M476 128 V214 H404 Z"/><path d="M565 70 H616 V116 H565 Z M565 131 H616 V270 H565 Z"/><path d="M640 270 L800 70 H905 V270 H845 V128 H833 L720 270 Z"/><path d="M963 70 H1068 Q1116 70 1116 118 V222 Q1116 270 1068 270 H963 Q915 270 915 222 V118 Q915 70 963 70 Z M990 126 H1037 Q1052 126 1052 141 V199 Q1052 214 1037 214 H990 Q975 214 975 199 V141 Q975 126 990 126 Z"/></g>
</svg>
</div></body></html>
